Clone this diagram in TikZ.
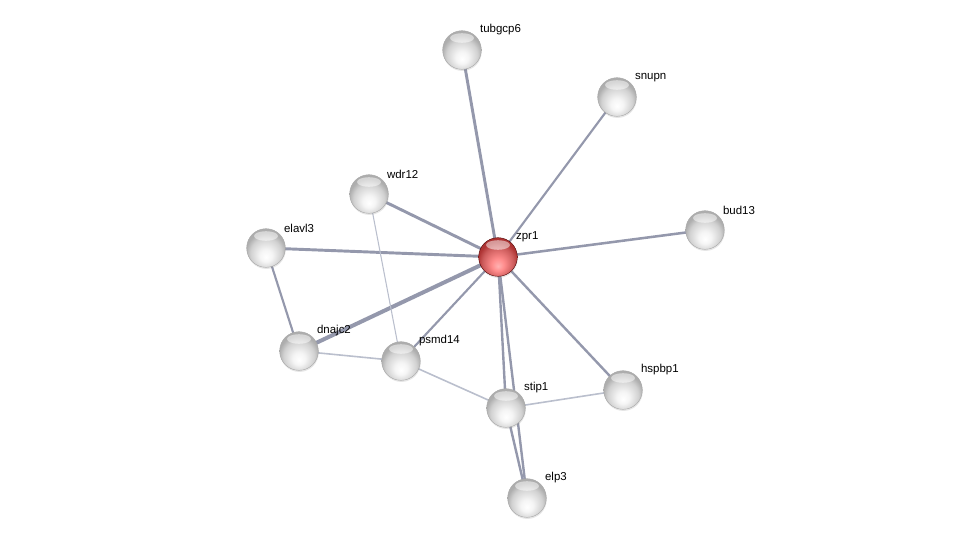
\documentclass[tikz,border=0pt]{standalone}
\usepackage{fontspec}
\setmainfont{Liberation Sans}
\usetikzlibrary{backgrounds,shadows}

\definecolor{edgec}{RGB}{148,152,172}
\definecolor{litec}{RGB}{186,191,205}
\pgfdeclareradialshading{glass}{\pgfpoint{0bp}{-12bp}}{%
  color(0bp)=(white); color(8bp)=(white!96!black); color(20bp)=(black!18);
  color(26bp)=(black!32); color(50bp)=(black!32)}
\pgfdeclareradialshading{glassred}{\pgfpoint{0bp}{-12bp}}{%
  color(0bp)=(red!30!white); color(8bp)=(red!45!white); color(20bp)=(red!55!white!80!black);
  color(26bp)=(red!60!black!80); color(50bp)=(red!60!black!80)}

\begin{document}
\begin{tikzpicture}[
  x=0.75pt, y=-0.75pt,
  font=\fontsize{8.6}{10}\selectfont,
  gene/.style={circle,minimum size=29pt,inner sep=0pt,draw=black!35,line width=0.3pt,
    shading=glass,drop shadow={opacity=0.2,shadow xshift=0.3pt,shadow yshift=-1.2pt},
    path picture={\fill[white,opacity=0.5] ([yshift=-5.5pt]path picture bounding box.north) ellipse (9pt and 3.6pt);},
    label={[lbl]45:#1}},
  hub/.style={gene=#1,shading=glassred,draw=red!30!black},
  lbl/.style={inner sep=0pt,anchor=south west,xshift=3pt,yshift=1pt},
  ln/.style={draw=edgec,line width=#1},
  lite/.style={draw=litec,line width=#1}
]
\useasboundingbox (0,0) rectangle (976,544);

\node[hub=zpr1]     (zpr1)    at (498,257) {};
\node[gene=tubgcp6] (tubgcp6) at (462,50)  {};
\node[gene=snupn]   (snupn)   at (617,97)  {};
\node[gene=wdr12]   (wdr12)   at (369,194) {};
\node[gene=bud13]   (bud13)   at (705,230) {};
\node[gene=elavl3]  (elavl3)  at (266,248) {};
\node[gene=dnajc2]  (dnajc2)  at (299,351) {};
\node[gene=psmd14]  (psmd14)  at (401,361) {};
\node[gene=hspbp1]  (hspbp1)  at (623,390) {};
\node[gene=stip1]   (stip1)   at (506,408) {};
\node[gene=elp3]    (elp3)    at (527,498) {};

% edges
\begin{scope}[on background layer]
\draw[ln=2.2pt] (zpr1.center) -- (tubgcp6.center);
\draw[ln=1.6pt] (zpr1.center) -- (snupn.center);
\draw[ln=2.2pt] (zpr1.center) -- (wdr12.center);
\draw[ln=1.9pt] (zpr1.center) -- (bud13.center);
\draw[ln=2.2pt] (zpr1.center) -- (elavl3.center);
\draw[ln=3pt]   (zpr1.center) -- (dnajc2.center);
\draw[ln=1.6pt] (zpr1.center) -- (psmd14.center);
\draw[ln=1.8pt] (zpr1.center) -- (hspbp1.center);
\draw[ln=1.8pt] (zpr1.center) -- (stip1.center);
\draw[ln=1.8pt] (zpr1.center) -- (elp3.center);
\draw[ln=1.8pt] (stip1.center) -- (elp3.center);
\draw[ln=1.6pt] (elavl3.center) -- (dnajc2.center);
\draw[lite=0.8pt] (wdr12.center) -- (psmd14.center);
\draw[lite=1.2pt] (dnajc2.center) -- (psmd14.center);
\draw[lite=1.2pt] (psmd14.center) -- (stip1.center);
\draw[lite=1.2pt] (stip1.center) -- (hspbp1.center);
\end{scope}
\end{tikzpicture}
\end{document}
